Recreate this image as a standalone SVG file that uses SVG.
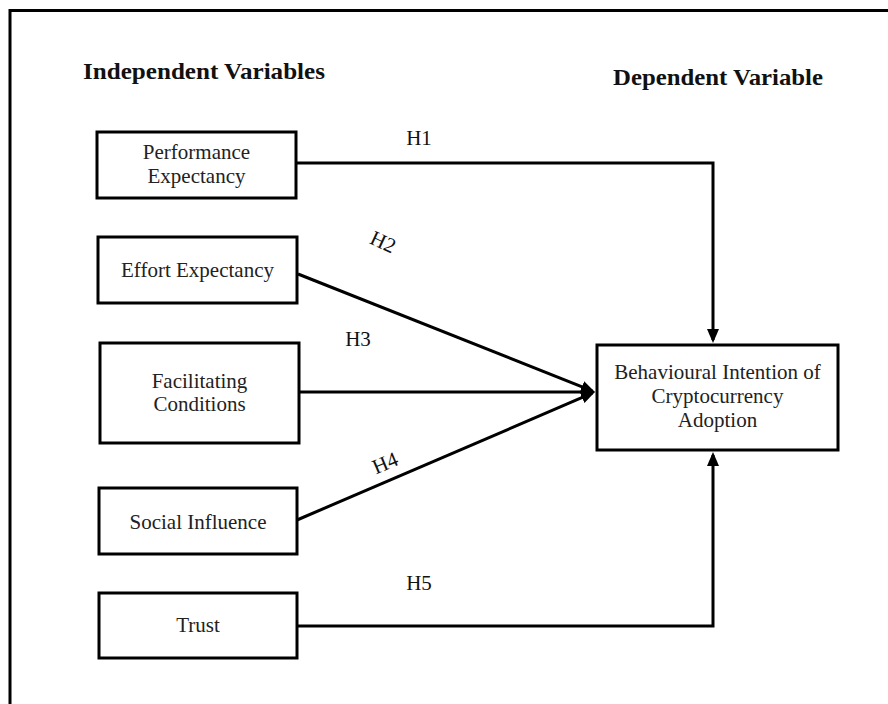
<svg xmlns="http://www.w3.org/2000/svg" width="888" height="704" viewBox="0 0 888 704">
  <style>
    .box { fill: #fff; stroke: #000; stroke-width: 3; }
    .t { font-family: "Liberation Serif", "Times New Roman", serif; font-size: 21px; fill: #222; text-anchor: middle; }
    .h { font-family: "Liberation Serif", "Times New Roman", serif; font-size: 24px; font-weight: bold; fill: #111; }
    .lab { font-family: "Liberation Serif", "Times New Roman", serif; font-size: 21px; fill: #111; text-anchor: middle; }
    .edge { fill: none; stroke: #000; stroke-width: 3; marker-end: url(#arr); }
  </style>
  <defs>
    <marker id="arr" markerUnits="userSpaceOnUse" markerWidth="14" markerHeight="12" refX="11" refY="6" orient="auto">
      <path d="M0,0 L14,6 L0,12 z" fill="#000"/>
    </marker>
  </defs>
  <rect x="0" y="0" width="888" height="704" fill="#fff"/>
  <rect x="10" y="10.5" width="900" height="720" fill="none" stroke="#000" stroke-width="3"/>

  <text class="h" x="83" y="79" textLength="242" lengthAdjust="spacingAndGlyphs">Independent Variables</text>
  <text class="h" x="613" y="85" textLength="210" lengthAdjust="spacingAndGlyphs">Dependent Variable</text>

  <g id="connectors">
    <path class="edge" d="M296,163 H713 V340"/>
    <path class="edge" d="M298,274 L592.2,390.9"/>
    <path class="edge" d="M299,392 L592,392"/>
    <path class="edge" d="M297,520 L592.2,393.2"/>
    <path class="edge" d="M297,626 H713 V455"/>
    <text class="lab" x="419" y="145">H1</text>
    <text class="lab" transform="translate(383,242) rotate(25)" x="0" y="7">H2</text>
    <text class="lab" x="358" y="346">H3</text>
    <text class="lab" transform="translate(385,463) rotate(-23)" x="0" y="7">H4</text>
    <text class="lab" x="419" y="590">H5</text>
  </g>

  <g id="performance">
    <rect class="box" x="97" y="132" width="199" height="66"/>
    <text class="t" x="196.5" y="159">Performance</text>
    <text class="t" x="196.5" y="183">Expectancy</text>
  </g>
  <g id="effort">
    <rect class="box" x="98" y="237" width="199" height="66"/>
    <text class="t" x="197.5" y="277">Effort Expectancy</text>
  </g>
  <g id="facilitating">
    <rect class="box" x="100" y="343" width="199" height="100"/>
    <text class="t" x="199.5" y="388">Facilitating</text>
    <text class="t" x="199.5" y="411">Conditions</text>
  </g>
  <g id="social">
    <rect class="box" x="99" y="488" width="198" height="66"/>
    <text class="t" x="198" y="529">Social Influence</text>
  </g>
  <g id="trust">
    <rect class="box" x="99" y="593" width="198" height="65"/>
    <text class="t" x="198" y="632">Trust</text>
  </g>
  <g id="behavioural">
    <rect class="box" x="597" y="345" width="241" height="105"/>
    <text class="t" x="717.5" y="379">Behavioural Intention of</text>
    <text class="t" x="717.5" y="403">Cryptocurrency</text>
    <text class="t" x="717.5" y="427">Adoption</text>
  </g>
</svg>
